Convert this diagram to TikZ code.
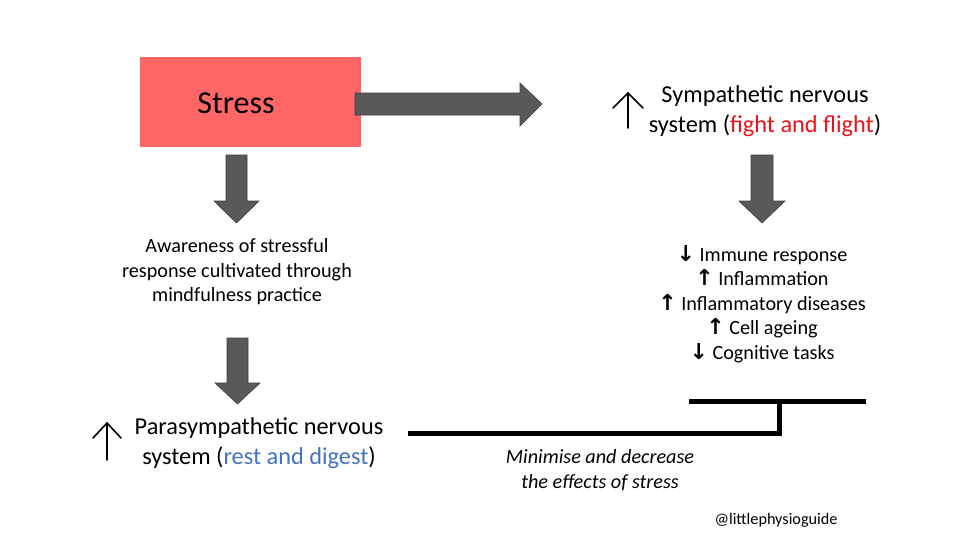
\documentclass[tikz,border=0pt]{standalone}
\usepackage{fontspec}
\setmainfont{Carlito}
\newfontfamily\arrowfont{DejaVu Sans}
\usetikzlibrary{arrows.meta}
\definecolor{stressred}{HTML}{FF6666}
\definecolor{arrowgray}{HTML}{595959}
\definecolor{arrowedge}{HTML}{3F3F3F}
\definecolor{fightred}{HTML}{E8141C}
\definecolor{restblue}{HTML}{4472C4}
\newcommand{\upa}{{\arrowfont\bfseries\fontsize{22}{24.6}\selectfont\char"2191}}
\newcommand{\dna}{{\arrowfont\bfseries\fontsize{22}{24.6}\selectfont\char"2193}}
\begin{document}
\begin{tikzpicture}[x=1pt,y=-1pt,
  blockarrow/.style={fill=arrowgray,draw=arrowedge,line width=0.6pt},
  thinarrow/.style={draw=black,line width=1.6pt,line cap=round,line join=miter},
  txt/.style={align=center,inner sep=0pt,font=\fontsize{20.2}{24.6}\selectfont},
  bigtxt/.style={align=center,inner sep=0pt,font=\fontsize{24.3}{29.5}\selectfont},
  barline/.style={draw=black,line width=5pt}]
\useasboundingbox[fill=white] (0,0) rectangle (980,551);
% Stress box
\node[fill=stressred,minimum width=221pt,minimum height=90pt,inner sep=0pt,anchor=north west] (stress) at (140,57) {};
\node[inner sep=0pt,font=\fontsize{32}{36}\selectfont] (stresstxt) at (236,103) {Stress};
% block arrows
\path[blockarrow] (355,93) -- (520,93) -- (520,83) -- (542,104) -- (520,126) -- (520,115) -- (355,115) -- cycle;
\path[blockarrow] (226,155) -- (247,155) -- (247,201) -- (259,201) -- (236.5,223) -- (214,201) -- (226,201) -- cycle;
\path[blockarrow] (227,338) -- (248,338) -- (248,383) -- (260,383) -- (237.5,404) -- (215,383) -- (227,383) -- cycle;
\path[blockarrow] (751,155) -- (773,155) -- (773,201) -- (785,201) -- (762,223) -- (739,201) -- (751,201) -- cycle;
% texts
\node[txt] (aware) at (237,272) {Awareness of stressful\\response cultivated through\\mindfulness practice};
\node[bigtxt] (symp) at (765,111) {Sympathetic nervous\\system (\textcolor{fightred}{fight and flight})};
\node[bigtxt] (para) at (259,443) {Parasympathetic nervous\\system (\textcolor{restblue}{rest and digest})};
\node[txt] (effects) at (762,304) {\dna{} Immune response\\\upa{} Inflammation\\\upa{} Inflammatory diseases\\\upa{} Cell ageing\\\dna{} Cognitive tasks};
\node[txt,font=\fontsize{20.2}{24.5}\selectfont\itshape] (minim) at (600,470) {Minimise and decrease\\the effects of stress};
\node[inner sep=0pt,font=\fontsize{16.2}{18}\selectfont] (handle) at (776,520) {@littlephysioguide};
% thin up arrows
\coordinate (sa1) at (628,128);
\coordinate (sa2) at (628,93);
\draw[thinarrow] (sa1) -- (sa2);
\draw[thinarrow] (613,108) -- (sa2) -- (643,108);
\coordinate (pa1) at (107,460);
\coordinate (pa2) at (107,423);
\draw[thinarrow] (pa1) -- (pa2);
\draw[thinarrow] (93,438) -- (pa2) -- (121,438);
% bar lines
\coordinate (b1) at (408,433);
\coordinate (b2) at (779,433);
\coordinate (b3) at (779,401);
\coordinate (t1) at (689,401);
\coordinate (t2) at (866,401);
\draw[barline] (b1) -- (b2) -- (b3);
\draw[barline] (t1) -- (t2);
\end{tikzpicture}
\end{document}
